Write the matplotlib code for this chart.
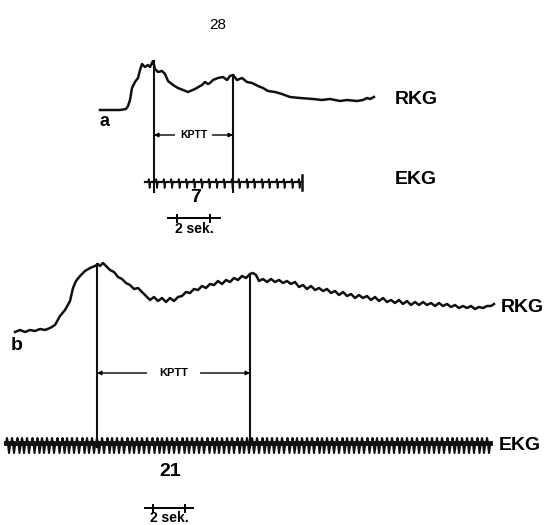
import numpy as np
import matplotlib.pyplot as plt

plt.rcParams['font.family'] = ['Liberation Sans', 'DejaVu Sans']

# panel a - radiocardiogram trace (x, y in picture units, y grows downward)
rkg_a_x = [100, 110, 120, 126, 128, 130, 132, 135, 138, 140, 142, 145, 148, 150, 153,
           155, 158, 162, 165, 168, 173, 178, 183, 188, 195, 202, 205, 208, 210, 213,
           218, 223, 227, 230, 233, 237, 242, 247, 252, 258, 263, 268, 275, 282, 290,
           300, 313, 322, 330, 340, 347, 357, 363, 367, 370, 374]
rkg_a_y = [110, 110, 110, 109, 106, 100, 88, 82, 78, 70, 64, 67, 65, 67, 61,
           69, 72, 71, 74, 81, 85, 88, 90, 92, 89, 85, 82, 84, 83, 80,
           78, 77, 80, 76, 75, 80, 78, 82, 83, 86, 88, 91, 92, 94, 97,
           98, 99, 100, 99, 101, 100, 101, 100, 98, 99, 97]

# panel a - EKG beats on the time line
ekg_a_beats = [148, 155.5, 163, 170.5, 178, 185.5, 193, 200.5, 208, 215.5, 223, 231,
               238, 246, 253, 261, 268, 276, 283, 291, 298]
ekg_a_start, ekg_a_end, ekg_a_level = 145, 302, 182

# panel b - radiocardiogram trace
rkg_b_x = [15, 20, 25, 30, 35, 40, 45, 50, 55, 60, 65, 70, 73, 76, 80, 85, 90, 95, 98, 100,
           103, 106, 110, 114, 118, 122, 126, 130, 134, 138, 142, 146, 150, 154, 158, 162,
           166, 170, 174, 178, 182, 186, 190, 194, 198, 202, 206, 210, 214, 218, 222, 226,
           230, 234, 238, 242, 246, 250, 253, 256, 259, 263, 267, 271, 275, 279, 283, 287,
           291, 295, 299, 303, 307, 311, 315, 319, 323, 327, 331, 335, 339, 343, 347, 351,
           355, 359, 363, 367, 371, 375, 379, 383, 387, 391, 395, 399, 403, 407, 411, 415,
           419, 423, 427, 431, 435, 439, 443, 447, 451, 455, 459, 463, 467, 471, 475, 479,
           483, 487, 491, 494]
rkg_b_y = [332, 330, 332, 330, 331, 329, 330, 328, 325, 316, 310, 301, 288, 281, 276, 271,
           268, 266, 264, 266, 263, 266, 270, 272, 277, 279, 283, 285, 289, 288, 292, 296,
           300, 297, 301, 298, 302, 298, 301, 297, 296, 292, 293, 289, 290, 286, 288, 284,
           285, 281, 284, 280, 282, 278, 280, 276, 278, 274, 273, 275, 281, 279, 282, 279,
           282, 280, 283, 281, 284, 282, 287, 285, 289, 286, 290, 288, 291, 289, 293, 291,
           295, 292, 296, 294, 298, 295, 298, 296, 300, 297, 301, 298, 302, 300, 303, 300,
           304, 301, 305, 302, 305, 302, 305, 303, 306, 303, 306, 304, 307, 305, 308, 306,
           308, 306, 309, 307, 308, 306, 306, 304]

# panel b - EKG beats
ekg_b_beats = [6, 11, 16.5, 21, 26, 31.5, 36.5, 41, 46, 51, 56.5, 61.5, 66, 71, 76, 81.5,
               86, 91, 96, 101, 106.5, 111, 116, 121, 126.5, 131, 136, 141, 146, 151.5,
               156.5, 161, 166, 171, 176, 181.5, 186, 191, 196, 201, 206.5, 211.5, 216,
               221, 226, 231, 236.5, 241, 246, 251, 256, 261.5, 266, 271, 276, 281, 286.5,
               291.5, 296, 301, 306, 311, 316.5, 321, 326, 331, 336, 341.5, 346, 351, 356,
               361, 366.5, 371.5, 376, 381, 386, 391, 396.5, 401, 406, 411, 416, 421.5,
               426, 431, 436, 441, 446.5, 451.5, 456, 461, 466, 471, 476.5, 481, 486]
ekg_b_level = 444

# KPTT markers: (x_start, x_end, y_top, y_bottom)
kptt_a = (154, 233, [61, 75], 192)
kptt_b = (97, 250, [264, 274], 447)


def ekg_path(beats, level, dx, dy):
    xs, ys = [], []
    for b in beats:
        xs += [b + d for d in dx]
        ys += [level + d for d in dy]
    return xs, ys


def kptt_bracket(ax, x0, x1, y, text, fs, gap):
    xm = (x0 + x1) / 2
    ax.text(xm, y, text, ha='center', va='center', fontsize=fs, fontweight='bold')
    ax.annotate('', xy=(x0, y), xytext=(xm - gap, y),
                arrowprops=dict(arrowstyle='-|>', color='black', lw=1.0,
                                mutation_scale=6, shrinkA=0, shrinkB=0))
    ax.annotate('', xy=(x1, y), xytext=(xm + gap, y),
                arrowprops=dict(arrowstyle='-|>', color='black', lw=1.0,
                                mutation_scale=6, shrinkA=0, shrinkB=0))


def scale_bar(ax, x0, x1, ticks, y, label, label_y):
    ax.plot([x0, x1], [y, y], color='black', lw=1.4)
    for t in ticks:
        ax.plot([t, t], [y - 3.5, y + 3.5], color='black', lw=1.4)
    ax.text((x0 + x1) / 2, label_y, label, ha='center', va='center',
            fontsize=10, fontweight='bold')


fig = plt.figure(figsize=(5.46, 5.25), dpi=100)
ax = fig.add_axes([0, 0, 1, 1])
ax.set_xlim(0, 546)
ax.set_ylim(525, 0)
ax.axis('off')

ink = '#111111'

# ---- panel a
ax.plot(rkg_a_x, rkg_a_y, color=ink, lw=1.8, solid_joinstyle='round')
ax.plot([ekg_a_start, ekg_a_end], [ekg_a_level, ekg_a_level], color=ink, lw=1.6)
xs, ys = ekg_path(ekg_a_beats, ekg_a_level, [0, 0.8, 1.6, 2.4], [0, -3, 6, 0])
ax.plot(xs, ys, color=ink, lw=1.2)
ax.plot([ekg_a_end, ekg_a_end], [ekg_a_level - 7, ekg_a_level + 8], color=ink, lw=1.8)
for x, ytop in zip(kptt_a[:2], kptt_a[2]):
    ax.plot([x, x], [ytop, kptt_a[3]], color=ink, lw=1.5)
kptt_bracket(ax, kptt_a[0], kptt_a[1], 135, 'KPTT', 7.5, 19)
scale_bar(ax, 168, 220, [177, 210], 218, '2 sek.', 229)

ax.text(218, 25, '28', ha='center', va='center', fontsize=11)
ax.text(104, 122, 'a', ha='center', va='center', fontsize=13, fontweight='bold')
ax.text(416, 99, 'RKG', ha='center', va='center', fontsize=14, fontweight='bold')
ax.text(416, 179, 'EKG', ha='center', va='center', fontsize=14, fontweight='bold')
ax.text(196, 197, '7', ha='center', va='center', fontsize=14, fontweight='bold')

# ---- panel b
ax.plot(rkg_b_x, rkg_b_y, color=ink, lw=1.8, solid_joinstyle='round')
ax.plot([ekg_b_beats[0], ekg_b_beats[-1] + 4], [ekg_b_level - 1, ekg_b_level - 1],
        color=ink, lw=3.5)
xs, ys = ekg_path(ekg_b_beats, ekg_b_level, [0, 1.0, 2.0, 3.0, 4.2], [0, -6, -1, 9, 0])
ax.plot(xs, ys, color=ink, lw=1.5)
for x, ytop in zip(kptt_b[:2], kptt_b[2]):
    ax.plot([x, x], [ytop, kptt_b[3]], color=ink, lw=1.5)
kptt_bracket(ax, kptt_b[0], kptt_b[1], 373, 'KPTT', 8, 27)
scale_bar(ax, 145, 193, [153, 185], 508, '2 sek.', 518)

ax.text(17, 346, 'b', ha='center', va='center', fontsize=14, fontweight='bold')
ax.text(522, 308, 'RKG', ha='center', va='center', fontsize=14, fontweight='bold')
ax.text(520, 446, 'EKG', ha='center', va='center', fontsize=14, fontweight='bold')
ax.text(170, 472, '21', ha='center', va='center', fontsize=14, fontweight='bold')

fig.savefig('out.png', dpi=100)
